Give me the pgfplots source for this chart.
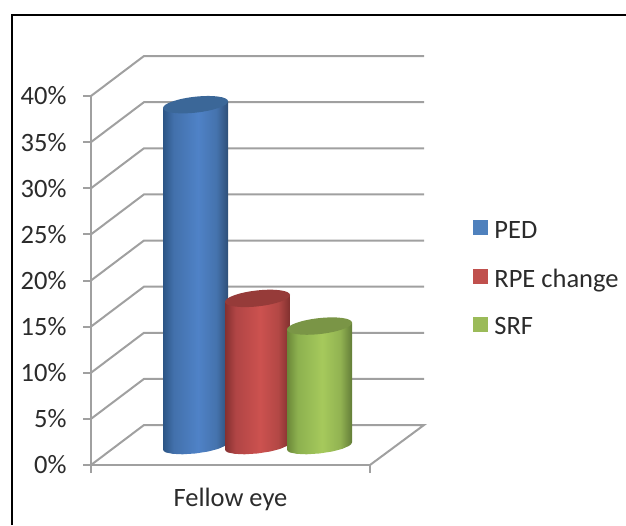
\documentclass[border=0pt]{standalone}
\usepackage{pgfplots}
\pgfplotsset{compat=1.18}
\usepackage{fontspec}
\setmainfont{Carlito}
\definecolor{gridg}{HTML}{A0A0A0}
\definecolor{txt}{HTML}{2B2B2B}
\definecolor{bluetop}{HTML}{3B6798}
\definecolor{redtop}{HTML}{963B39}
\definecolor{greentop}{HTML}{7A9546}
\definecolor{bluekey}{HTML}{4F81BD}
\definecolor{redkey}{HTML}{C0504D}
\definecolor{greenkey}{HTML}{9BBB59}
\pgfdeclarehorizontalshading{cylblue}{100bp}{rgb(0bp)=(0.17,0.33,0.52); rgb(25bp)=(0.17,0.33,0.52); rgb(33bp)=(0.26,0.44,0.67); rgb(52bp)=(0.31,0.51,0.78); rgb(66bp)=(0.27,0.45,0.68); rgb(75bp)=(0.18,0.31,0.47); rgb(100bp)=(0.18,0.31,0.47)}
\pgfdeclarehorizontalshading{cylred}{100bp}{rgb(0bp)=(0.52,0.19,0.19); rgb(25bp)=(0.52,0.19,0.19); rgb(33bp)=(0.69,0.27,0.27); rgb(52bp)=(0.80,0.32,0.31); rgb(66bp)=(0.70,0.28,0.27); rgb(75bp)=(0.50,0.19,0.18); rgb(100bp)=(0.50,0.19,0.18)}
\pgfdeclarehorizontalshading{cylgreen}{100bp}{rgb(0bp)=(0.42,0.53,0.22); rgb(25bp)=(0.42,0.53,0.22); rgb(33bp)=(0.55,0.69,0.31); rgb(52bp)=(0.65,0.79,0.36); rgb(66bp)=(0.57,0.70,0.32); rgb(75bp)=(0.39,0.49,0.22); rgb(100bp)=(0.39,0.49,0.22)}
\pgfdeclareplotmark{cyltop}{\pgfpathellipse{\pgfpointorigin}{\pgfpoint{32.5pt}{3.4pt}}{\pgfpoint{0pt}{8pt}}\pgfusepathqfill}
\pgfplotsset{
  cyl/.style={y filter/.expression={y+2.06}},
  wall/.style={gridg,line width=2pt,forget plot,mark=none},
  key/.style={legend image code/.code={\path[##1,draw=none] (0pt,-5pt) rectangle (15pt,10pt);\path (19pt,0pt);}},
}
\begin{document}
\begin{tikzpicture}[x=1pt,y=1pt]
\path[use as bounding box] (0,0) rectangle (626,525);
\draw[black,line width=2pt] (12,0) -- (12,510) -- (626,510);
\begin{axis}[
  at={(91pt,60pt)},anchor=south west,scale only axis,width=279pt,height=369pt,
  xmin=91,xmax=370,ymin=0,ymax=40,clip=false,
  axis x line=bottom,axis y line=left,
  axis line style={-,gridg,line width=2pt},
  tick style={gridg,line width=2pt},
  tick align=outside,major tick length=8pt,minor tick length=8pt,
  xtick={230.5},minor xtick={91,370},xticklabels={Fellow eye},
  major x tick style={draw=none},
  ytick={0,5,10,15,20,25,30,35,40},
  yticklabels={0\%,5\%,10\%,15\%,20\%,25\%,30\%,35\%,40\%},
  tick label style={font=\fontsize{26.5}{30}\selectfont,text=txt},
  y tick label style={xshift=-13pt},
  x tick label style={yshift=-12pt},
  legend style={draw=none,fill=none,at={(axis cs:473,20.2)},anchor=west,
    font=\fontsize{26.5}{30}\selectfont,text=txt,row sep=25pt,inner sep=0pt},
  legend cell align=left,key,
]
% walls and floor
\addplot[wall] coordinates {(91,0)(144,4.336)(424,4.336)(370,0)};
\addplot[wall] coordinates {(91,5)(144,9.336)(424,9.336)};
\addplot[wall] coordinates {(91,10)(144,14.336)(424,14.336)};
\addplot[wall] coordinates {(91,15)(144,19.336)(424,19.336)};
\addplot[wall] coordinates {(91,20)(144,24.336)(424,24.336)};
\addplot[wall] coordinates {(91,25)(144,29.336)(424,29.336)};
\addplot[wall] coordinates {(91,30)(144,34.336)(424,34.336)};
\addplot[wall] coordinates {(91,35)(144,39.336)(424,39.336)};
\addplot[wall] coordinates {(91,40)(144,44.336)(424,44.336)};
% PED = 37
\addplot[cyl,forget plot,mark=none,draw=none,shade,shading=cylblue] coordinates {
 (163,-0.39)(164,-0.58)(166.25,-0.71)(172.75,-0.85)(182.5,-0.90)(195.5,-0.81)(208.5,-0.59)(218.25,-0.31)(224.75,0)(227,0.18)(228,0.39)
 (228,37.37)(163,36.63)} --cycle;
\addplot[cyl,forget plot,only marks,mark=cyltop,mark options={fill=bluetop,draw=none}] coordinates {(195.5,37)};
% RPE change = 16
\addplot[cyl,forget plot,mark=none,draw=none,shade,shading=cylred] coordinates {
 (225,-0.39)(226,-0.58)(228.25,-0.71)(234.75,-0.85)(244.5,-0.90)(257.5,-0.81)(270.5,-0.59)(280.25,-0.31)(286.75,0)(289,0.18)(290,0.39)
 (290,16.37)(225,15.63)} --cycle;
\addplot[cyl,forget plot,only marks,mark=cyltop,mark options={fill=redtop,draw=none}] coordinates {(257.5,16)};
% SRF = 13
\addplot[cyl,forget plot,mark=none,draw=none,shade,shading=cylgreen] coordinates {
 (287,-0.39)(288,-0.58)(290.25,-0.71)(296.75,-0.85)(306.5,-0.90)(319.5,-0.81)(332.5,-0.59)(342.25,-0.31)(348.75,0)(351,0.18)(352,0.39)
 (352,13.37)(287,12.63)} --cycle;
\addplot[cyl,forget plot,only marks,mark=cyltop,mark options={fill=greentop,draw=none}] coordinates {(319.5,13)};
\addlegendimage{fill=bluekey}
\addlegendentry{PED}
\addlegendimage{fill=redkey}
\addlegendentry{RPE change}
\addlegendimage{fill=greenkey}
\addlegendentry{SRF}
\end{axis}
\end{tikzpicture}
\end{document}
